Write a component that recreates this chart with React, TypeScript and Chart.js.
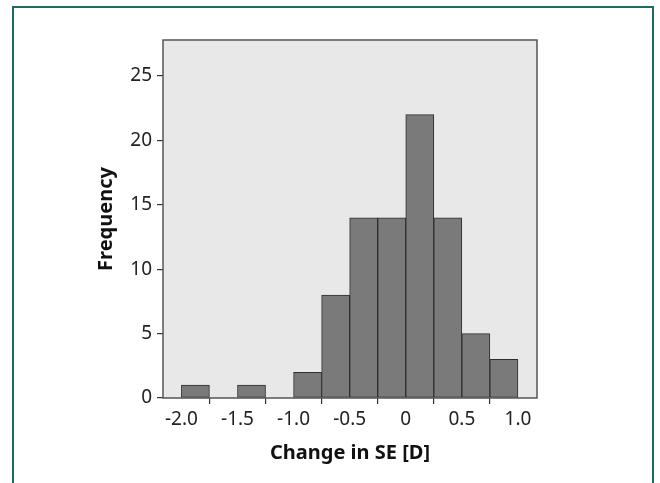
import React, { useEffect, useRef } from "react";
import { Chart, registerables } from "chart.js";

Chart.register(...registerables);

// Histogram bin edges (lower edge of each bin) and bin width
const binStarts = [-2.0, -1.75, -1.5, -1.25, -1.0, -0.75, -0.5, -0.25, 0.0, 0.25, 0.5, 0.75];
const binWidth = 0.25;
const frequencies = [1, 0, 1, 0, 2, 8, 14, 14, 22, 14, 5, 3];

const xTickValues = [-2.0, -1.5, -1.0, -0.5, 0, 0.5, 1.0];
const xTickLabels = ["-2.0", "-1.5", "-1.0", "-0.5", "0", "0.5", "1.0"];
const yTickValues = [0, 5, 10, 15, 20, 25];

const xAxisTitle = "Change in SE [D]";
const yAxisTitle = "Frequency";

const FONT = "'Noto Sans', 'Open Sans', 'DejaVu Sans', sans-serif";

export default function App() {
  const canvasRef = useRef<HTMLCanvasElement | null>(null);

  useEffect(() => {
    const canvas = canvasRef.current;
    if (!canvas) return;

    const plotFrame = {
      id: "plotFrame",
      beforeDraw(chart: any) {
        const { ctx, chartArea } = chart;
        ctx.save();
        ctx.fillStyle = "#e8e8e8";
        ctx.fillRect(chartArea.left, chartArea.top, chartArea.right - chartArea.left, chartArea.bottom - chartArea.top);
        ctx.restore();
      },
      afterDraw(chart: any) {
        const { ctx, chartArea } = chart;
        ctx.save();
        ctx.strokeStyle = "#555555";
        ctx.lineWidth = 1.5;
        ctx.strokeRect(chartArea.left, chartArea.top, chartArea.right - chartArea.left, chartArea.bottom - chartArea.top);
        ctx.restore();
      },
    };

    const data = binStarts.map((s, i) => ({ x: s + binWidth / 2, y: frequencies[i] }));

    const chart = new Chart(canvas, {
      type: "bar",
      data: {
        datasets: [
          {
            data: data as any,
            backgroundColor: "#7a7a7a",
            borderColor: "#2e2e2e",
            borderWidth: 1,
            borderSkipped: false,
            barPercentage: 1,
            categoryPercentage: 1,
          },
        ],
      },
      options: {
        responsive: false,
        animation: false,
        layout: { padding: { left: 0, top: 40, right: 123, bottom: 0 } },
        plugins: { legend: { display: false }, tooltip: { enabled: false } },
        scales: {
          x: {
            type: "linear",
            min: -2.164,
            max: 1.17,
            offset: false,
            afterFit(scale: any) {
              scale.height = 85;
            },
            afterBuildTicks(scale: any) {
              scale.ticks = xTickValues.map((v) => ({ value: v }));
            },
            ticks: {
              autoSkip: false,
              maxRotation: 0,
              padding: 4,
              color: "#222222",
              font: { family: FONT, size: 19 },
              callback: (value: any) => {
                const i = xTickValues.indexOf(Number(value));
                return i >= 0 ? xTickLabels[i] : "";
              },
            },
            grid: { display: true, drawOnChartArea: false, drawTicks: true, tickLength: 6, color: "#333333", lineWidth: 1.2 },
            border: { display: false },
            title: {
              display: true,
              text: xAxisTitle,
              color: "#111111",
              font: { family: FONT, size: 20, weight: "bold" },
              padding: { top: 4, bottom: 18 },
            },
          },
          y: {
            type: "linear",
            min: 0,
            max: 27.8,
            afterFit(scale: any) {
              scale.width = 163;
            },
            afterBuildTicks(scale: any) {
              scale.ticks = yTickValues.map((v) => ({ value: v }));
            },
            ticks: {
              padding: 5,
              color: "#222222",
              font: { family: FONT, size: 19 },
              callback: (value: any) => String(value),
            },
            grid: { display: true, drawOnChartArea: false, drawTicks: true, tickLength: 6, color: "#333333", lineWidth: 1.2 },
            border: { display: false },
            title: {
              display: true,
              text: yAxisTitle,
              color: "#111111",
              font: { family: FONT, size: 20, weight: "bold" },
              padding: { top: 94, bottom: 0 },
            },
          },
        },
      },
      plugins: [plotFrame],
    });

    return () => chart.destroy();
  }, []);

  return (
    <div style={{ position: "absolute", left: 0, top: 0, width: 660, height: 483, background: "#ffffff", overflow: "hidden" }}>
      <div
        style={{
          position: "absolute",
          left: 12,
          top: 6,
          width: 642,
          height: 520,
          border: "2px solid #1d6a6a",
          boxSizing: "border-box",
        }}
      />
      <canvas ref={canvasRef} width={660} height={483} style={{ position: "absolute", left: 0, top: 0, width: 660, height: 483 }} />
    </div>
  );
}
